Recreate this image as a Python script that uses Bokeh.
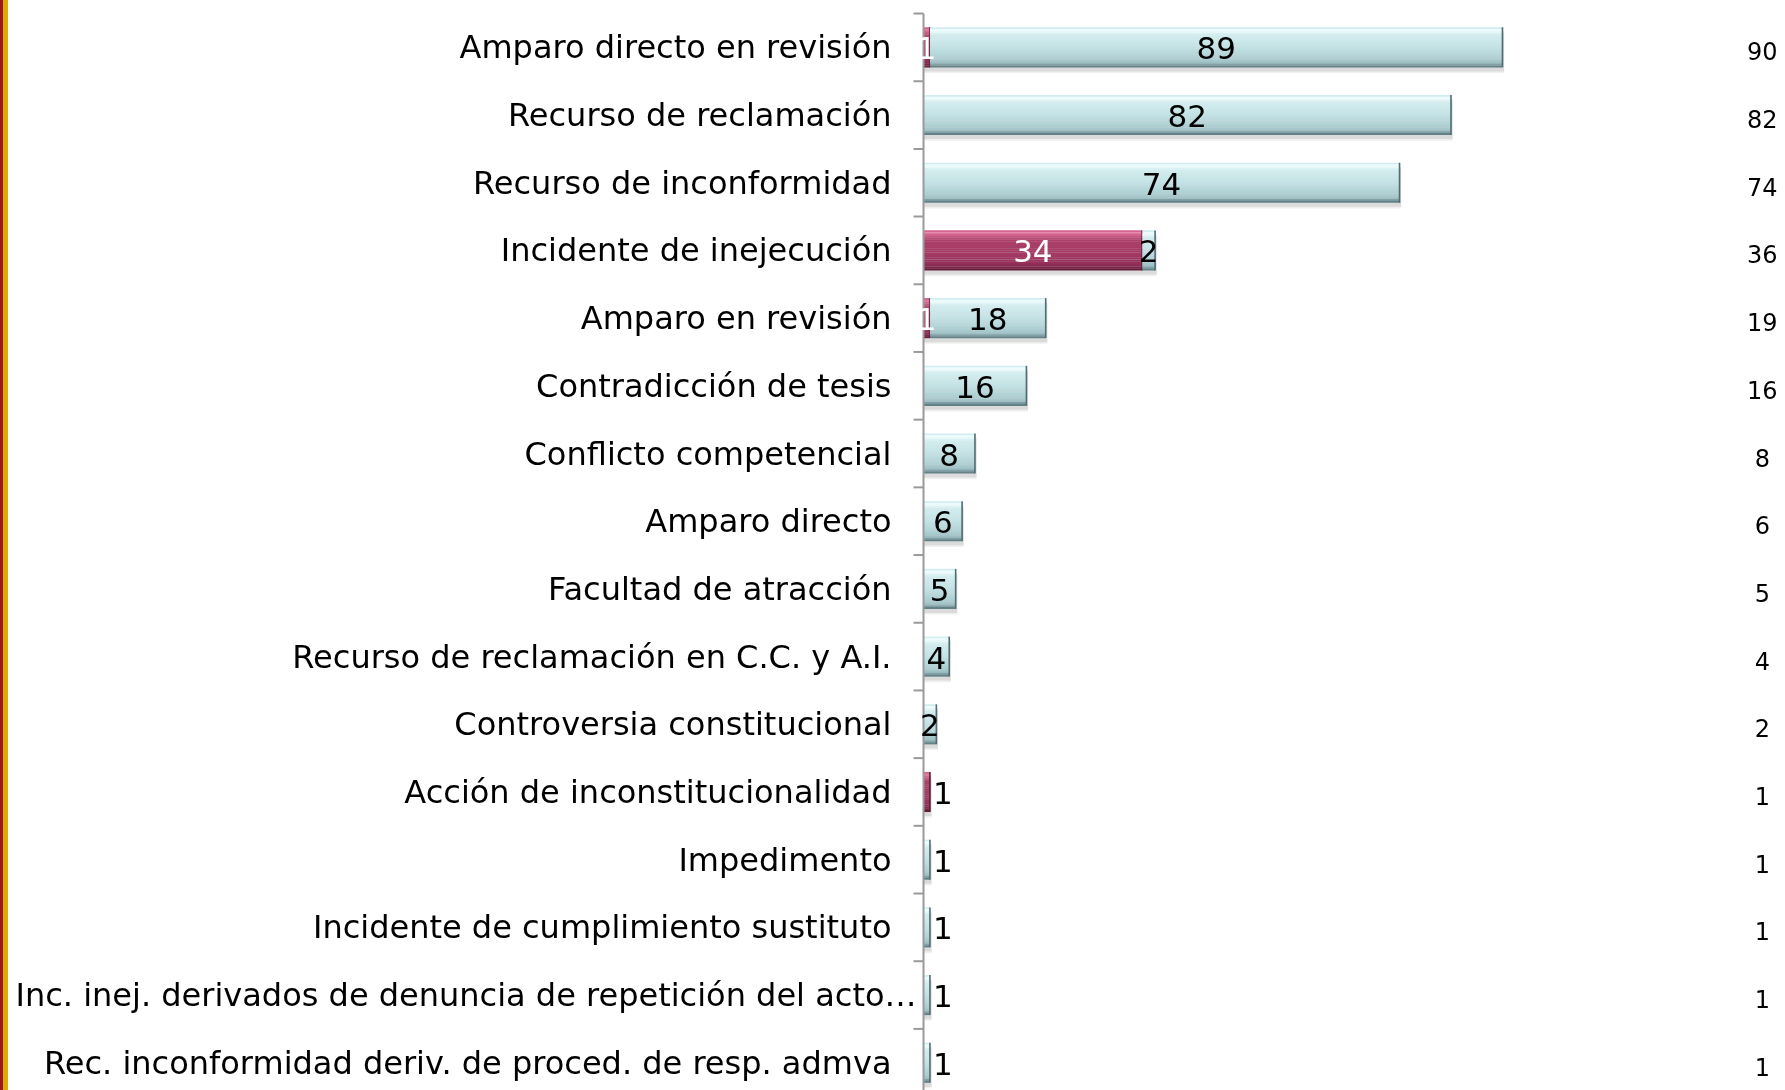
from bokeh.plotting import figure
from bokeh.models import ColumnDataSource, Range1d, Div
from bokeh.layouts import row
from bokeh.embed import file_html
from bokeh.resources import INLINE
from bokeh.core.properties import value

# ---------------- data ----------------
categories = [
    "Amparo directo en revisión",
    "Recurso de reclamación",
    "Recurso de inconformidad",
    "Incidente de inejecución",
    "Amparo en revisión",
    "Contradicción de tesis",
    "Conflicto competencial",
    "Amparo directo",
    "Facultad de atracción",
    "Recurso de reclamación en C.C. y A.I.",
    "Controversia constitucional",
    "Acción de inconstitucionalidad",
    "Impedimento",
    "Incidente de cumplimiento sustituto",
    "Inc. inej. derivados de denuncia de repetición del acto…",
    "Rec. inconformidad deriv. de proced. de resp. admva",
]
series_pink = [1, 0, 0, 34, 1, 0, 0, 0, 0, 0, 0, 1, 0, 0, 0, 0]
series_cyan = [89, 82, 74, 2, 18, 16, 8, 6, 5, 4, 2, 0, 1, 1, 1, 1]
totals = [90, 82, 74, 36, 19, 16, 8, 6, 5, 4, 2, 1, 1, 1, 1, 1]

# ---------------- layout / style ----------------
FONT = "DejaVu Sans"
FIG_W, FIG_H = 1777, 1090
PX = 6.433                 # pixels per unit on the value axis
AXIS_PX = 915              # value 0 sits this far from the figure's left edge
BAR_H = 0.59
Y_TOP, Y_BOTTOM = -0.692, 15.41
TOTAL_X = 130.4
TICK_LEN = 10 / PX
n = len(categories)
idx = list(range(n))

cyan_stops = [(0.00, "#A8D5DD"), (0.03, "#DDF6F8"), (0.08, "#F2FDFD"), (0.18, "#D4EEF0"),
              (0.50, "#C3E2E5"), (0.80, "#ACCDD0"), (0.90, "#9BBDC1"), (0.94, "#7A9AA0"),
              (1.00, "#55747A")]
pink_stops = [(0.00, "#C4527F"), (0.05, "#E57CA4"), (0.12, "#D0628C"), (0.25, "#AC4069"),
              (0.60, "#A33A64"), (0.85, "#922F58"), (0.93, "#7A2548"), (1.00, "#5E1A36")]


def _rgb(h):
    return tuple(int(h[i:i + 2], 16) for i in (1, 3, 5))


def interp(stops, f):
    for (f0, c0), (f1, c1) in zip(stops[:-1], stops[1:]):
        if f0 <= f <= f1:
            t = 0 if f1 == f0 else (f - f0) / (f1 - f0)
            a, b = _rgb(c0), _rgb(c1)
            return "#%02x%02x%02x" % tuple(round(a[i] + (b[i] - a[i]) * t) for i in range(3))
    return stops[-1][1]


def strips(stops, k=22):
    return [(i / k, (i + 1) / k, interp(stops, (i + 0.5) / k)) for i in range(k)]


p = figure(width=FIG_W, height=FIG_H,
           x_range=Range1d(-AXIS_PX / PX, (FIG_W - AXIS_PX) / PX),
           y_range=Range1d(Y_BOTTOM, Y_TOP),
           output_backend="svg", toolbar_location=None,
           x_axis_location=None, y_axis_location=None,
           min_border_left=0, min_border_right=0, min_border_top=0, min_border_bottom=0)
p.outline_line_color = None
p.xgrid.visible = False
p.ygrid.visible = False
p.background_fill_color = "white"
p.border_fill_color = "white"

lefts_pink = [0] * n
rights_pink = series_pink
lefts_cyan = series_pink
rights_cyan = [a + b for a, b in zip(series_pink, series_cyan)]

# shadows
for off, alpha in [(0.085, 0.10), (0.06, 0.16)]:
    p.hbar(y=[i + off for i in idx], height=BAR_H, left=[0] * n,
           right=[t + 0.25 for t in totals], fill_color="#707070", fill_alpha=alpha, line_color=None)


def draw_series(lefts, rights, stops, edge):
    for f0, f1, col in strips(stops):
        ys = [i - BAR_H / 2 + (f0 + f1) / 2 * BAR_H for i in idx]
        p.hbar(y=ys, height=(f1 - f0) * BAR_H + 0.003, left=lefts, right=rights,
               fill_color=col, line_color=None)
    vis = [k for k in idx if rights[k] > lefts[k]]
    p.segment(x0=[rights[k] for k in vis], x1=[rights[k] for k in vis],
              y0=[k - BAR_H / 2 for k in vis], y1=[k + BAR_H / 2 for k in vis],
              line_color=edge, line_width=1.6)


draw_series(lefts_pink, rights_pink, pink_stops, "#5E1A36")
draw_series(lefts_cyan, rights_cyan, cyan_stops, "#4F6D72")

# category axis: line and tick marks between categories
bounds = [i - 0.5 for i in range(n + 1)]
p.segment(x0=[-TICK_LEN] * len(bounds), x1=[0] * len(bounds), y0=bounds, y1=bounds,
          line_color="#9A9A9A", line_width=2)
p.segment(x0=[0], x1=[0], y0=[-0.5], y1=[Y_BOTTOM], line_color="#9A9A9A", line_width=2)

# category labels
p.text(x=[0] * n, y=idx, text=categories,
       x_offset=[-7 if c.endswith("…") else -32 for c in categories],
       text_color="black", text_font=value(FONT), text_font_size="32px",
       text_align="right", text_baseline="middle")

# value labels
in_x, in_y, in_t, in_c = [], [], [], []
out_x, out_y, out_t = [], [], []
for k in idx:
    for lo, val, col in [(lefts_pink[k], series_pink[k], "white"), (lefts_cyan[k], series_cyan[k], "black")]:
        if val <= 0:
            continue
        if val == totals[k] and val <= 1:
            out_x.append(totals[k]); out_y.append(k); out_t.append(str(val))
        else:
            in_x.append(lo + val / 2); in_y.append(k); in_t.append(str(val)); in_c.append(col)

p.text(x="x", y="y", text="t", text_color="c",
       source=ColumnDataSource(dict(x=in_x, y=in_y, t=in_t, c=in_c)),
       text_font=value(FONT), text_font_size="31px", text_align="center", text_baseline="middle", y_offset=1)
p.text(x=out_x, y=out_y, text=out_t, text_color="black",
       text_font=value(FONT), text_font_size="31px", text_align="left", text_baseline="middle",
       x_offset=3, y_offset=1)

# totals column
p.text(x=[TOTAL_X] * n, y=idx, text=[str(t) for t in totals], text_color="black",
       text_font=value(FONT), text_font_size="24px", text_align="center", text_baseline="middle",
       y_offset=4)

stripe = Div(text="", width=8, height=FIG_H, margin=0,
             styles={"background": "linear-gradient(to right, #9E1616 0px, #9E1616 3px, #D8AE00 3px, #D8AE00 8px)"})

lay = row(stripe, p, styles={"position": "fixed", "left": "0px", "top": "0px"})

open("out.html", "w").write(file_html(lay, INLINE))
